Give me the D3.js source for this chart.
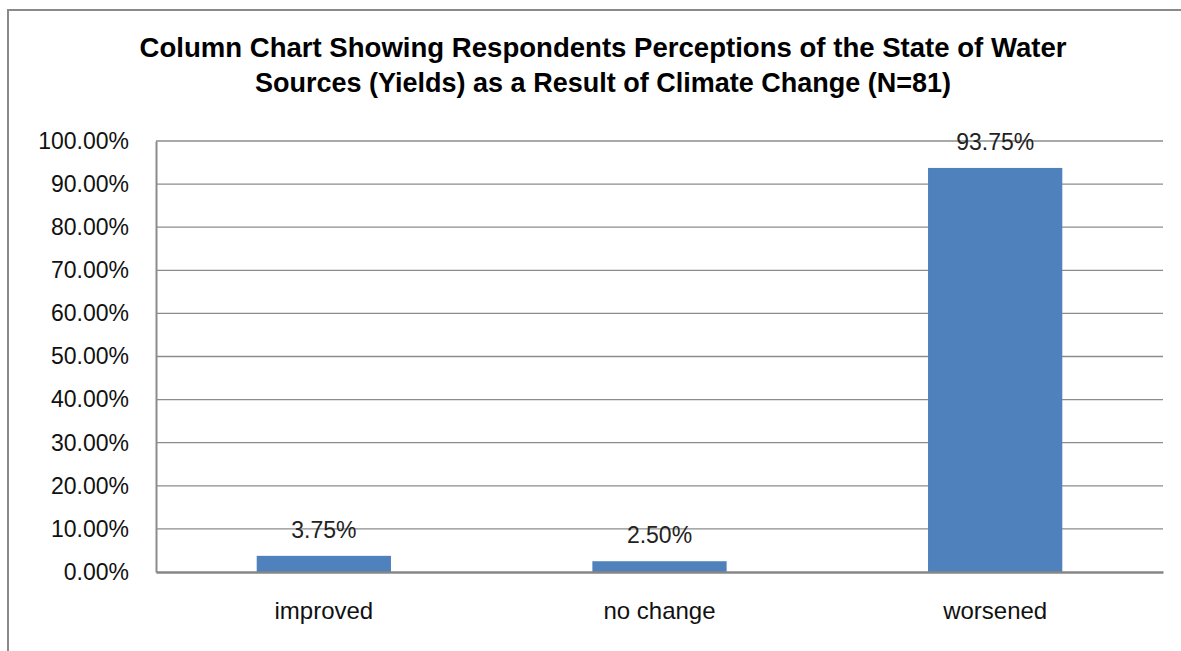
<!DOCTYPE html>
<html><head><meta charset="utf-8">
<script src="https://cdn.jsdelivr.net/npm/d3@7"></script>
<style>html,body{margin:0;padding:0;background:#fff;overflow:hidden;}svg{display:block;}</style>
</head><body>
<svg id="chart" width="1181" height="651"></svg>
<script>
const categories = ["improved", "no change", "worsened"];
const values = [3.75, 2.50, 93.75];
const yTicks = [0, 10, 20, 30, 40, 50, 60, 70, 80, 90, 100];
const titleLines = ["Column Chart Showing Respondents Perceptions of the State of Water", "Sources (Yields) as a Result of Climate Change (N=81)"];

const svg = d3.select("#chart");
const W = 1181, H = 651;
const m = {left: 156, right: 1163, top: 141, bottom: 572};

// outer chart border (top and left visible)
svg.append("line").attr("x1", 8).attr("x2", W).attr("y1", 10).attr("y2", 10)
  .attr("stroke", "#8a8a8a").attr("stroke-width", 2);
svg.append("line").attr("x1", 8).attr("x2", 8).attr("y1", 9).attr("y2", H)
  .attr("stroke", "#8a8a8a").attr("stroke-width", 2);

const x = d3.scaleBand().domain(categories).range([m.left, m.right]).paddingInner(0.6).paddingOuter(0.3);
const y = d3.scaleLinear().domain([0, 100]).range([m.bottom, m.top]);

// gridlines
svg.append("g").selectAll("line").data(yTicks.filter(d => d > 0)).join("line")
  .attr("x1", m.left).attr("x2", m.right)
  .attr("y1", d => y(d)).attr("y2", d => y(d))
  .attr("stroke", "#8c8c8c").attr("stroke-width", 1.3);

// y axis
const yAxis = d3.axisLeft(y).tickValues(yTicks).tickSize(0).tickPadding(27)
  .tickFormat(d => d.toFixed(2) + "%");
const gy = svg.append("g").attr("transform", `translate(${m.left},0)`).call(yAxis);
gy.select(".domain").attr("stroke", "#8c8c8c").attr("stroke-width", 2);
gy.selectAll("text").attr("font-family", "Liberation Sans, Arial, sans-serif").attr("font-size", 23).attr("fill", "#111");

// bars
svg.append("g").selectAll("rect").data(values).join("rect")
  .attr("x", (d, i) => x(categories[i]))
  .attr("width", x.bandwidth())
  .attr("y", d => y(d))
  .attr("height", d => y(0) - y(d))
  .attr("fill", "#4F81BD");

// x axis
const xAxis = d3.axisBottom(x).tickSize(0).tickPadding(30);
const gx = svg.append("g").attr("transform", `translate(0,${m.bottom})`).call(xAxis);
gx.select(".domain").attr("stroke", "#868686").attr("stroke-width", 2.5);
gx.selectAll("text").attr("font-family", "Liberation Sans, Arial, sans-serif").attr("font-size", 24).attr("fill", "#111");

// data labels
svg.append("g").selectAll("text").data(values).join("text")
  .attr("x", (d, i) => x(categories[i]) + x.bandwidth() / 2)
  .attr("y", d => y(d) - 26)
  .attr("dy", "0.35em")
  .attr("text-anchor", "middle")
  .attr("font-family", "Liberation Sans, Arial, sans-serif").attr("font-size", 23).attr("fill", "#222")
  .text(d => d.toFixed(2) + "%");

// title
const tg = svg.append("g");
const titleWidths = [927, 696];
tg.selectAll("text").data(titleLines).join("text")
  .attr("x", 603)
  .attr("y", (d, i) => 57 + i * 35)
  .attr("text-anchor", "middle")
  .attr("font-family", "Liberation Sans Narrow, Arial Narrow, Liberation Sans, sans-serif")
  .attr("font-weight", "bold").attr("font-size", 28).attr("fill", "#000")
  .attr("textLength", (d, i) => titleWidths[i])
  .attr("lengthAdjust", "spacingAndGlyphs")
  .text(d => d);
</script>
</body></html>
